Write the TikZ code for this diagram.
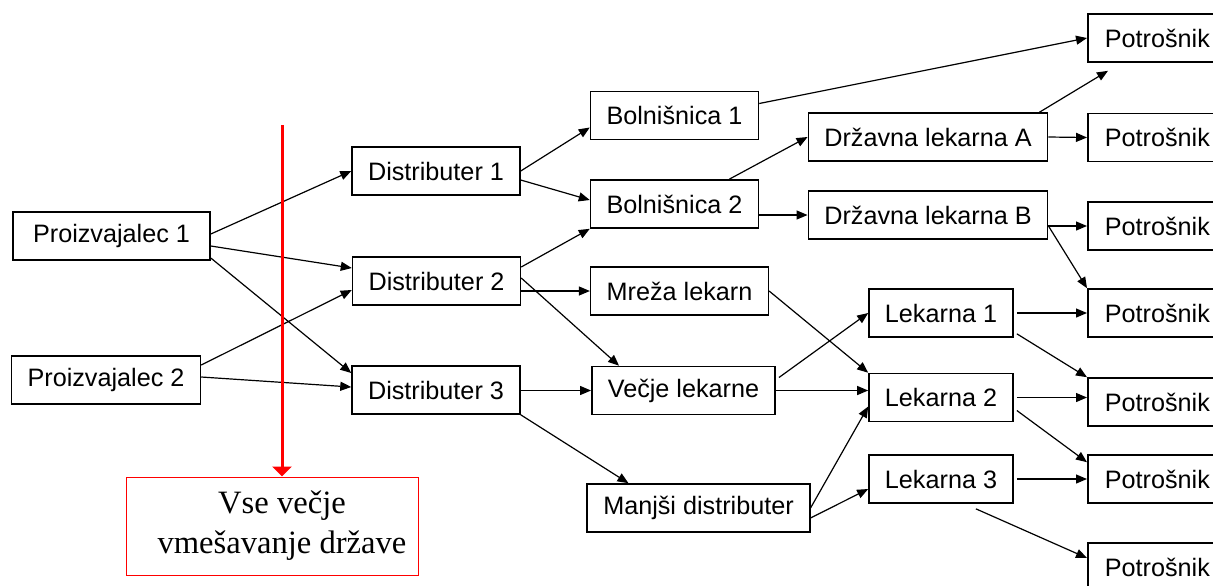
\documentclass[tikz,border=0pt]{standalone}
\usepackage{fontspec}
\setmainfont{Liberation Serif}
\setsansfont{Liberation Sans}
\usetikzlibrary{arrows.meta}

\begin{document}
\begin{tikzpicture}[->,>={Triangle[length=5.5pt,width=4.5pt]},x=0.5pt,y=-0.5pt,
		line width=0.6pt,font=\sffamily\fontsize{12.6}{15}\selectfont]
		\tikzstyle{box}=[draw,line width=0.8pt,minimum height=24pt,inner xsep=8pt,inner ysep=0pt]
		\tikzstyle{potbox}=[box,anchor=west,inner xsep=8.5pt]
		\tikzstyle{redbox}=[draw=red,line width=0.5pt,minimum width=146pt,minimum height=49pt,
			align=center,font=\rmfamily\fontsize{16.3}{20}\selectfont]
		\useasboundingbox (0,0) rectangle (1213,585);
		
		\node[box,minimum width=98.5pt] (p1) at (111.5,236) {Proizvajalec 1};
		\node[box]         (p2) at (106,380)   {Proizvajalec 2};
		\node[box]         (d1) at (436,171)   {Distributer 1};
		\node[box]         (d2) at (436.5,281) {Distributer 2};
		\node[box]         (d3) at (436,390)   {Distributer 3};
		\node[box]         (b1) at (674.5,115.5) {Bolnišnica 1};
		\node[box]         (b2) at (674.5,204) {Bolnišnica 2};
		\node[box]         (dla) at (928,137)  {Državna lekarna A};
		\node[box]         (dlb) at (928,215)  {Državna lekarna B};
		\node[box]         (mreza) at (679.5,291) {Mreža lekarn};
		\node[box]         (vecje) at (683.5,390.5) {Večje lekarne};
		\node[box]         (manjsi) at (698.5,508) {Manjši distributer};
		\node[box]         (l1) at (941,313)   {Lekarna 1};
		\node[box]         (l2) at (941,397.5) {Lekarna 2};
		\node[box]         (l3) at (941,479)   {Lekarna 3};
		\node[potbox]      (pot1) at (1087,38)    {Potrošnik};
		\node[potbox]      (pot2) at (1087,137.5) {Potrošnik};
		\node[potbox]      (pot3) at (1087,226)   {Potrošnik};
		\node[potbox]      (pot4) at (1087,313)   {Potrošnik};
		\node[potbox]      (pot5) at (1087,402)   {Potrošnik};
		\node[potbox]      (pot6) at (1087,479)   {Potrošnik};
		\node[potbox]      (pot7) at (1087,567)   {Potrošnik};
		\node[redbox]      (vse) at (272,526) {\hspace*{10pt}\raisebox{-3pt}{Vse večje}\\\hspace*{10pt}\raisebox{-3pt}{vmešavanje države}};
		\coordinate        (vrh) at (282,125);
		
		\path ([yshift=1pt]p1.east) edge (d1.west)
		([yshift=-5pt]p1.east) edge ([yshift=6.5pt]d2.west)
		([yshift=-11pt]p1.east) edge ([yshift=8.5pt]d3.west)
		([yshift=7.5pt]p2.east) edge ([yshift=-4.5pt]d2.west)
		([yshift=1.5pt]p2.east) edge ([yshift=1.5pt]d3.west)
		(d1.east) edge ([yshift=-6pt]b1.west)
		([yshift=-4.5pt]d1.east) edge ([yshift=2pt]b2.west)
		([yshift=7pt]d2.east) edge (b2.south west)
		(mreza.west -| d2.east) edge (mreza.west)
		([yshift=1.5pt]d2.east) edge ([xshift=14pt]vecje.north west)
		(vecje.west -| d3.east) edge (vecje.west)
		(d3.south east) edge ([xshift=21pt]manjsi.north west)
		([yshift=6pt]b1.east) edge (pot1.west)
		([xshift=-15pt]b2.north east) edge (dla.west)
		(dlb.west -| b2.east) edge (dlb.west)
		([xshift=-4.5pt]dla.north east) edge ([xshift=10.5pt,yshift=-4pt]pot1.south west)
		(dla.east) edge (pot2.west)
		(pot3.west -| dlb.east) edge (pot3.west)
		([yshift=-5.5pt]dlb.east) edge (pot4.north west)
		(mreza.east) edge (l2.north west)
		([xshift=1.5pt,yshift=6.5pt]vecje.east) edge (l1.west)
		(vecje.east) edge (vecje.east -| l2.west)
		(manjsi.east) edge ([yshift=-4.5pt]l2.west)
		([yshift=-5pt]manjsi.east) edge ([yshift=-5pt]l3.west)
		([xshift=1.5pt]l1.east) edge (pot4.west)
		([xshift=1.5pt,yshift=2pt]l1.south east) edge (pot5.north west)
		([xshift=1.5pt]l2.east) edge (l2.east -| pot5.west)
		([xshift=1.5pt,yshift=-6.5pt]l2.east) edge ([yshift=-4pt]pot6.north west)
		([xshift=1.5pt]l3.east) edge (pot6.west)
		([xshift=-19pt,yshift=-2.5pt]l3.south east) edge ([yshift=4.5pt]pot7.west);
		
		\draw[red,line width=1.5pt,-{Triangle[length=5pt,width=9.5pt]}] (vrh) -- ([xshift=5pt]vse.north);
		\end{tikzpicture}
\end{document}
